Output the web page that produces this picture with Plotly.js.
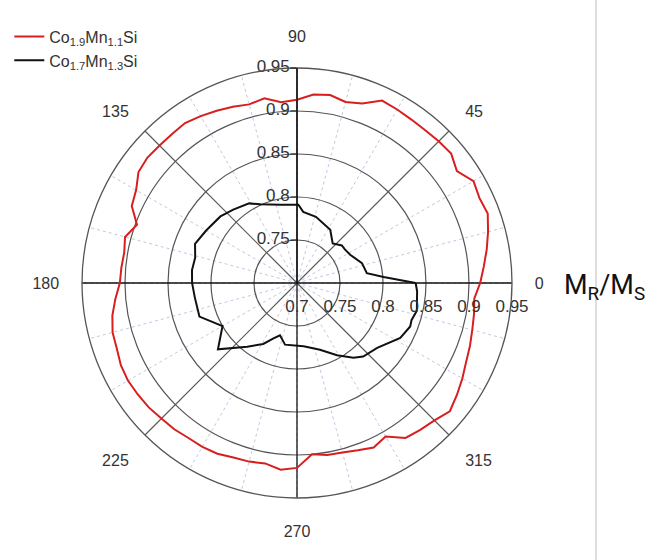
<!DOCTYPE html>
<html>
<head>
<meta charset="utf-8">
<script src="https://cdn.plot.ly/plotly-3.0.1.min.js"></script>
<style>html,body{margin:0;padding:0;background:#fff;}#chart{width:664px;height:560px;}</style>
</head>
<body>
<div id="chart"></div>
<script>
// ---- data ----
const seriesNames = ["Co<sub>1.9</sub>Mn<sub>1.1</sub>Si", "Co<sub>1.7</sub>Mn<sub>1.3</sub>Si"];

const redTheta = [0,5,10,15,20,25,30,35,40,45,50,55,60,65,70,75,80,85,90,95,100,105,110,115,120,125,130,135,140,145,150,155,160,165,170,175,180,185,190,195,200,205,210,215,220,225,230,235,240,245,250,255,260,265,270,275,280,285,290,295,300,305,310,315,320,325,330,335,340,345,350,355,360];
const redR = [0.913,0.918,0.924,0.930,0.936,0.934,0.937,0.927,0.934,0.933,0.932,0.932,0.933,0.934,0.922,0.918,0.922,0.920,0.913,0.911,0.918,0.915,0.918,0.921,0.924,0.927,0.926,0.926,0.927,0.925,0.916,0.912,0.898,0.907,0.904,0.905,0.906,0.912,0.918,0.922,0.923,0.926,0.927,0.926,0.925,0.923,0.922,0.920,0.920,0.919,0.916,0.915,0.913,0.918,0.915,0.900,0.903,0.904,0.907,0.911,0.906,0.920,0.923,0.926,0.932,0.927,0.922,0.917,0.914,0.911,0.909,0.907,0.913];

const blackTheta = [0,4,8,17,28,35,40,48,58,74,85,89,102,115,121,131,139,150,159,166,173,180,188,199,210,220,232,241,247,252,259,276,289,299,307,312,321,332,339,342,347,356,360];
const blackR = [0.838,0.801,0.782,0.779,0.770,0.768,0.768,0.762,0.773,0.780,0.783,0.791,0.793,0.801,0.808,0.813,0.818,0.822,0.827,0.822,0.823,0.822,0.820,0.820,0.800,0.820,0.794,0.781,0.770,0.764,0.773,0.774,0.782,0.796,0.809,0.815,0.820,0.836,0.841,0.840,0.843,0.840,0.838];

const radialTicks = [0.75, 0.8, 0.85, 0.9, 0.95];
const radialTickText = ["0.75", "0.8", "0.85", "0.9", "0.95"];
const baseLabelR = [0.7, 0.75, 0.8, 0.85, 0.9, 0.95];
const baseLabelText = ["0.7", "0.75", "0.8", "0.85", "0.9", "0.95"];
const angleTicks = [0,15,30,45,60,75,90,105,120,135,150,165,180,195,210,225,240,255,270,285,300,315,330,345];
const angleLabels = angleTicks.map(a => (a % 45 === 0 ? String(a) : ""));
const mainAxes = [0, 90];
const diagAxes = [45, 135];
const rMin = 0.7, rMax = 0.95;

// ---- traces ----
const traces = [];
function axisLine(a, color, width) {
  return {type: 'scatterpolar', mode: 'lines', theta: [a, a, a + 180], r: [rMax, rMin, rMax],
    line: {color: color, width: width}, showlegend: false, hoverinfo: 'skip'};
}
diagAxes.forEach(a => traces.push(axisLine(a, '#5a5a5a', 1.2)));
mainAxes.forEach(a => traces.push(axisLine(a, '#111', 1.3)));

traces.push({type: 'scatterpolar', mode: 'lines', name: seriesNames[0], theta: redTheta, r: redR,
  line: {color: '#d81e1e', width: 2}});
traces.push({type: 'scatterpolar', mode: 'lines', name: seriesNames[1], theta: blackTheta, r: blackR,
  line: {color: '#111111', width: 2}});

const labelFont = {family: 'Liberation Sans, Arial, sans-serif', size: 17, color: '#333'};
// radial labels along the 0 direction (below the axis)
traces.push({type: 'scatterpolar', mode: 'markers+text', theta: baseLabelR.map(() => 0), r: baseLabelR,
  text: baseLabelText, textposition: 'bottom center', textfont: labelFont,
  marker: {size: 24, color: 'rgba(0,0,0,0)'}, showlegend: false, hoverinfo: 'skip', cliponaxis: false});
// radial labels along the 90 direction (left of the axis)
traces.push({type: 'scatterpolar', mode: 'markers+text', theta: radialTicks.map(() => 90), r: radialTicks,
  text: radialTickText, textposition: 'middle left', textfont: labelFont,
  marker: {size: 10, color: 'rgba(0,0,0,0)'}, showlegend: false, hoverinfo: 'skip', cliponaxis: false});

const layout = {
  width: 664, height: 560,
  margin: {l: 0, r: 0, t: 0, b: 0},
  paper_bgcolor: '#fff',
  font: {family: 'Liberation Sans, Arial, sans-serif', color: '#333'},
  showlegend: true,
  legend: {x: 0.014, y: 0.965, xanchor: 'left', yanchor: 'top', bgcolor: 'rgba(0,0,0,0)',
    font: {size: 16, color: '#333'}, tracegroupgap: 0},
  polar: {
    domain: {x: [82/664, 512/664], y: [1 - 498/560, 1 - 68/560]},
    bgcolor: '#fff',
    radialaxis: {range: [rMin, rMax], angle: 90, side: 'counterclockwise',
      tickvals: radialTicks, showticklabels: false, ticks: 'outside', ticklen: 6, tickcolor: '#111',
      showline: true, linecolor: '#111', linewidth: 1.3,
      gridcolor: '#555', gridwidth: 1.2},
    angularaxis: {tickmode: 'array', tickvals: angleTicks, ticktext: angleLabels, direction: 'counterclockwise', rotation: 0,
      ticks: 'outside', ticklen: 19, tickcolor: 'rgba(0,0,0,0)', tickfont: {size: 16, color: '#333'},
      showline: true, linecolor: '#555', linewidth: 1.3,
      gridcolor: '#c4c7e2', griddash: 'dot', gridwidth: 1}
  },
  shapes: [{type: 'line', xref: 'paper', yref: 'paper', x0: 596/664, x1: 596/664, y0: 0, y1: 1,
    line: {color: '#bbbbbb', width: 1}}],
  annotations: [{xref: 'paper', yref: 'paper', x: 604/664, y: 1 - 287/560, xanchor: 'center', yanchor: 'middle',
    text: 'M<sub>R</sub>/M<sub>S</sub>', showarrow: false,
    font: {family: 'Roboto, Liberation Sans, sans-serif', size: 27, color: '#111'}}]
};

Plotly.newPlot('chart', traces, layout, {displayModeBar: false, staticPlot: true});
</script>
</body>
</html>
